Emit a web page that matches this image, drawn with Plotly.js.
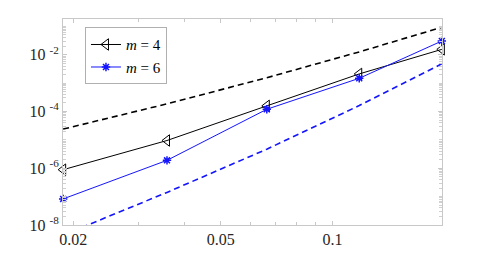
<!DOCTYPE html>
<html><head><meta charset="utf-8">
<script src="https://cdn.plot.ly/plotly-3.0.1.min.js"></script>
<style>body{margin:0;background:#fff}#plot{width:488px;height:254px}</style>
</head><body><div id="plot"></div>
<script>
const h = [0.0188, 0.0358, 0.0665, 0.118, 0.197];
const errM4 = [8.9e-7, 9.5e-6, 1.58e-4, 2.11e-3, 1.55e-2];
const errM6 = [8.3e-8, 1.9e-6, 1.2e-4, 1.48e-3, 3.05e-2];
const refM4 = [2.4e-5, 1.86e-4, 1.55e-3, 1.26e-2, 9.3e-2];
const refM6 = [4.4e-9, 1.41e-7, 4.7e-6, 1.62e-4, 4.8e-3];
const xTickVals = [0.02, 0.05, 0.1];
const xTickText = ['0.02', '0.05', '0.1'];
const yTickVals = [1e-8, 1e-6, 1e-4, 1e-2];
const yTickText = ['10 <sup>-8</sup>', '10 <sup>-6</sup>', '10 <sup>-4</sup>', '10 <sup>-2</sup>'];

const serif = 'Liberation Serif';

const traces = [
  {x: h, y: refM4, mode: 'lines', line: {color: '#000', width: 1.6, dash: '6px,4px'}, showlegend: false},
  {x: h, y: refM6, mode: 'lines', line: {color: '#1414ff', width: 1.6, dash: '6px,4px'}, showlegend: false},
  {x: h, y: errM4, mode: 'lines+markers', name: '<i>m</i> = 4', cliponaxis: false,
   line: {color: '#000', width: 1},
   marker: {symbol: 'triangle-left-open', size: 10, color: '#000', line: {width: 1, color: '#000'}}},
  {x: h, y: errM6, mode: 'lines+markers', name: '<i>m</i> = 6', cliponaxis: false,
   line: {color: '#1414ff', width: 1},
   marker: {symbol: 'asterisk-open', size: 7, color: '#1414ff', line: {width: 1.5, color: '#1414ff'}}}
];

const axisCommon = {
  showgrid: false, zeroline: false, showline: true, linecolor: '#c8c8c8', linewidth: 1,
  mirror: 'allticks', ticks: 'inside', ticklen: 4, tickcolor: '#c8c8c8'
};

const layout = {
  width: 488, height: 254,
  margin: {l: 63, r: 46, t: 19, b: 28.5},
  paper_bgcolor: '#fff', plot_bgcolor: '#fff',
  font: {family: serif, size: 16, color: '#262626'},
  xaxis: Object.assign({}, axisCommon, {
    type: 'log', range: [Math.log10(0.01878), Math.log10(0.1972)],
    tickmode: 'array', tickvals: xTickVals, ticktext: xTickText,
    minor: {ticks: 'inside', ticklen: 3, tickcolor: '#c8c8c8', tickmode: 'array', tickvals: [0.03, 0.04, 0.06, 0.07, 0.08, 0.09]}
  }),
  yaxis: Object.assign({}, axisCommon, {
    type: 'log', range: [-8, -0.74],
    tickmode: 'array', tickvals: yTickVals, ticktext: yTickText,
    minor: {ticks: 'inside', ticklen: 3, tickcolor: '#d0d0d0', dtick: 'D1'}
  }),
  legend: {
    x: 0.058, y: 0.96, xanchor: 'left', yanchor: 'top',
    bgcolor: '#fff', bordercolor: '#b0b0b0', borderwidth: 1,
    font: {family: serif, size: 15, color: '#000'},
    itemwidth: 30, tracegroupgap: 0
  },
  showlegend: true
};

Plotly.newPlot('plot', traces, layout, {staticPlot: true, displayModeBar: false});
</script>
</body></html>
